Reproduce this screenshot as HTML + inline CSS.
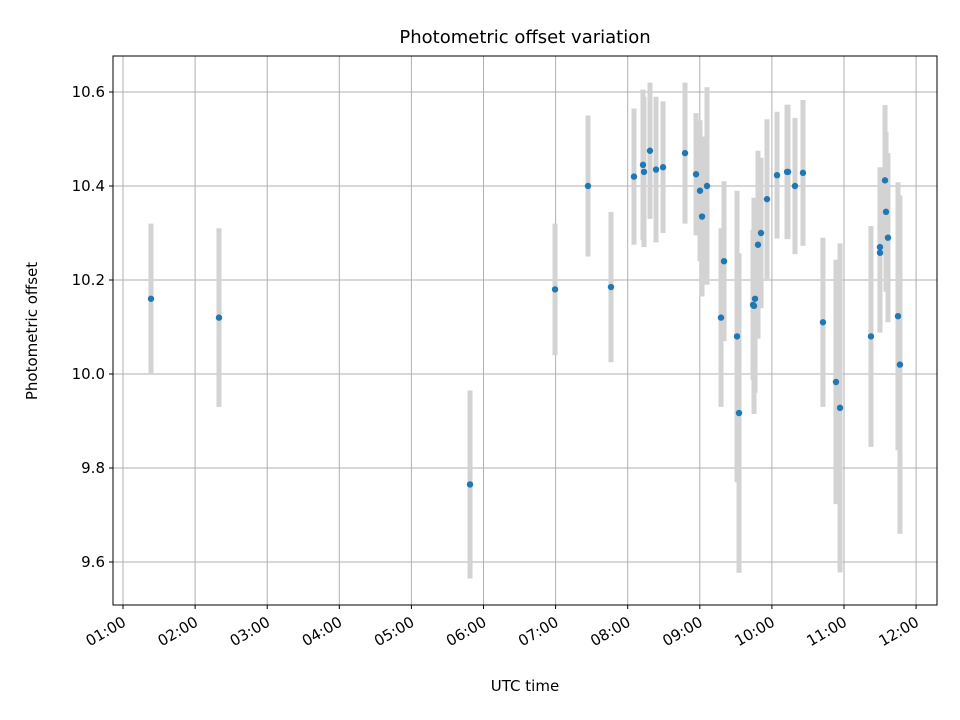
<!DOCTYPE html>
<html><head><meta charset="utf-8"><style>body{margin:0;background:#fff}svg{display:block;font-family:"DejaVu Sans","Liberation Sans",sans-serif}</style></head>
<body>
<svg id="chart" width="960" height="720">
<rect width="960" height="720" fill="#fff"/>
<text x="525" y="43" font-size="18" text-anchor="middle">Photometric offset variation</text>
<g id="grid"></g><g id="bars"></g><g id="pts"></g><g id="axes"></g>
<rect x="113" y="56" width="824" height="549" fill="none" stroke="#000" stroke-width="1"/>
<text x="525" y="691" font-size="15" text-anchor="middle">UTC time</text>
<text transform="translate(37,331) rotate(-90)" font-size="15" text-anchor="middle">Photometric offset</text>
</svg>
<script>
const times=[1.388,2.331,5.813,6.992,7.449,7.768,8.087,8.212,8.226,8.309,8.393,8.490,8.795,8.948,9.003,9.031,9.100,9.294,9.336,9.516,9.544,9.738,9.752,9.766,9.807,9.849,9.932,10.071,10.210,10.224,10.320,10.431,10.708,10.889,10.945,11.374,11.499,11.499,11.569,11.583,11.610,11.749,11.776];
const values=[10.16,10.12,9.765,10.18,10.40,10.185,10.42,10.445,10.43,10.475,10.435,10.44,10.47,10.425,10.39,10.335,10.40,10.12,10.24,10.08,9.917,10.147,10.145,10.16,10.275,10.30,10.372,10.423,10.43,10.43,10.40,10.428,10.11,9.983,9.928,10.08,10.27,10.258,10.412,10.345,10.29,10.123,10.02];
const errors=[0.16,0.19,0.2,0.14,0.15,0.16,0.145,0.16,0.16,0.145,0.155,0.14,0.15,0.13,0.15,0.17,0.21,0.19,0.17,0.31,0.34,0.16,0.23,0.2,0.2,0.16,0.17,0.135,0.143,0.143,0.145,0.155,0.18,0.26,0.35,0.235,0.17,0.17,0.16,0.17,0.18,0.285,0.36];
const xTicks=[1,2,3,4,5,6,7,8,9,10,11,12];
const xTickLabels=["01:00","02:00","03:00","04:00","05:00","06:00","07:00","08:00","09:00","10:00","11:00","12:00"];
const yTicks=[9.6,9.8,10.0,10.2,10.4,10.6];
const yTickLabels=["9.6","9.8","10.0","10.2","10.4","10.6"];
const NS="http://www.w3.org/2000/svg";
const L=113,R=937,T=56,B=605,xmin=0.861,xmax=12.29,ymin=9.5085,ymax=10.6766;
const X=t=>L+(t-xmin)/(xmax-xmin)*(R-L);
const Y=v=>B-(v-ymin)/(ymax-ymin)*(B-T);
function mk(tag,attrs,parent){const e=document.createElementNS(NS,tag);for(const k in attrs)e.setAttribute(k,attrs[k]);document.getElementById(parent).appendChild(e);return e;}
xTicks.forEach((t,i)=>{const x=X(t);
 const g=mk('line',{x1:x,x2:x,y1:T,y2:B,stroke:'#b0b0b0','stroke-width':1},'grid');
 
 
 const tk=mk('line',{x1:x,x2:x,y1:B,y2:B+4,stroke:'#000'},'axes');
 
 
 const ax=x+4, ay=B+20;
 const tx=mk('text',{x:ax,y:ay,'font-size':15,'text-anchor':'end',transform:`rotate(-30 ${ax} ${ay})`},'axes');
 tx.textContent=xTickLabels[i];
 
 
});
yTicks.forEach((v,i)=>{const y=Y(v);
 const g=mk('line',{x1:L,x2:R,y1:y,y2:y,stroke:'#b0b0b0','stroke-width':1},'grid');
 
 
 const tk=mk('line',{x1:L-4,x2:L,y1:y,y2:y,stroke:'#000'},'axes');
 
 
 const tx=mk('text',{x:L-8,y:y+5,'font-size':15,'text-anchor':'end'},'axes');
 tx.textContent=yTickLabels[i];
 
 
});
times.forEach((t,i)=>{const x=X(t);
 const b=mk('line',{x1:x,x2:x,y1:Y(values[i]+errors[i]),y2:Y(values[i]-errors[i]),stroke:'#d3d3d3','stroke-width':5},'bars');
 
 
});
times.forEach((t,i)=>{
 const p=mk('circle',{cx:X(t),cy:Y(values[i]),r:3.2,fill:'#1f77b4'},'pts');
 
 
});
</script>
</body></html>
